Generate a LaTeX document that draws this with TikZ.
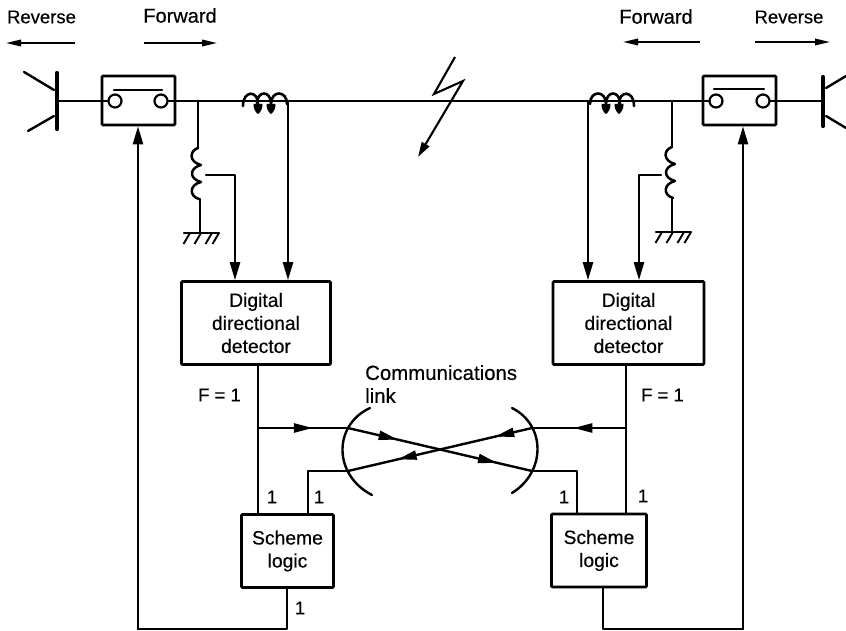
\documentclass[tikz,border=0pt]{standalone}
\usepackage{fontspec}
\setmainfont{Liberation Sans}[FakeBold=0.35]
\usetikzlibrary{arrows.meta,decorations.markings,calc}
\tikzset{
  x=1pt,y=-1pt,
  wire/.style={line width=2.4pt,line cap=round,line join=round},
  bar/.style={line width=4.2pt,line cap=round},
  bigtip/.tip={Triangle[length=18pt,width=10pt]},
  smalltip/.tip={Triangle[length=15pt,width=6.5pt]},
  midtip/.tip={Triangle[length=19pt,width=9pt]},
  feed/.style={wire,-bigtip},
  dirarrow/.style={line width=1.8pt,-smalltip},
  midarrow/.style={postaction={decorate,decoration={markings,mark=at position #1 with {\arrow{midtip}}}}},
  breaker/.style={draw,line width=2.6pt,rounded corners=1pt,minimum width=73pt,minimum height=49pt,inner sep=0pt},
  contact/.style={draw,circle,line width=2.2pt,minimum size=13pt,inner sep=0pt},
  detbox/.style={draw,line width=2.6pt,rounded corners=1pt,minimum width=149pt,minimum height=83pt,inner sep=0pt,align=center,font=\fontsize{19.3}{23}\selectfont},
  logicbox/.style={draw,line width=2.6pt,rounded corners=1pt,minimum height=73pt,inner sep=0pt,align=center,font=\fontsize{19.3}{23}\selectfont},
  lab/.style={inner sep=0pt,font=\fontsize{18.5}{23}\selectfont},
  widelab/.style={inner sep=0pt,font=\fontsize{20}{23}\selectfont},
  ground/.pic={
    \draw[wire] (-16,0) -- (19,0);
    \foreach \h in {-10,1,12,19} \draw[line width=1.9pt] (\h,0) -- ++(-6.5,11);
  },
  ctcoil/.pic={
    \draw[line width=2.6pt,line cap=round] (0,5) .. controls (0,-11) and (15,-11) .. (15,3)
      (14,3) .. controls (14,-11) and (28,-11) .. (28,3)
      (28,3) .. controls (28,-11) and (44,-11) .. (44,3);
    \fill (10.5,3) .. controls (10.5,10) and (14,12) .. (15,13) .. controls (16,12) and (19.5,10) .. (19.5,3) -- cycle;
    \fill (23.5,3) .. controls (23.5,10) and (27,12) .. (28,13) .. controls (29,12) and (32.5,10) .. (32.5,3) -- cycle;
  },
  ptcoil/.pic={
    \draw[line width=2.5pt,line cap=round,line join=round]
      (0,0) .. controls (-9,3) and (-9,14) .. (3,17)
      .. controls (-9,20) and (-9,31) .. (3,34)
      .. controls (-9,37) and (-9,48) .. (1,51);
  }
}
\begin{document}
\begin{tikzpicture}
\useasboundingbox (0,0) rectangle (846,631);

% direction labels
\node[lab] (revL) at (41.5,17) {Reverse};
\node[widelab] (fwdL) at (180,15.5) {Forward};
\node[widelab] (fwdR) at (656,16.5) {Forward};
\node[lab] (revR) at (789,17) {Reverse};
\coordinate (revLa) at (75,43);  \coordinate (revLb) at (6,43);
\coordinate (fwdLa) at (144,43); \coordinate (fwdLb) at (217,43);
\coordinate (fwdRa) at (700,42); \coordinate (fwdRb) at (623,42);
\coordinate (revRa) at (755,42); \coordinate (revRb) at (830,42);
\draw[dirarrow] (revLa) -- (revLb);
\draw[dirarrow] (fwdLa) -- (fwdLb);
\draw[dirarrow] (fwdRa) -- (fwdRb);
\draw[dirarrow] (revRa) -- (revRb);

% breakers
\node[breaker] (brkL) at (138.5,100.5) {};
\node[breaker] (brkR) at (739.5,100.5) {};
\node[contact] (cLa) at (115,101) {};
\node[contact] (cLb) at (161,101) {};
\node[contact] (cRa) at (716,101) {};
\node[contact] (cRb) at (763,101) {};
\coordinate (barLa) at (114,90); \coordinate (barLb) at (162,90);
\coordinate (barRa) at (714,89); \coordinate (barRb) at (764,89);
\draw[wire] (barLa) -- (barLb);
\draw[wire] (barRa) -- (barRb);

% generators
\coordinate (genLt) at (57,73);  \coordinate (genLb) at (57,129);
\coordinate (genRt) at (823,77); \coordinate (genRb) at (823,126);
\coordinate (genLc) at (57,101); \coordinate (genRc) at (823,101);
\draw[bar] (genLt) -- (genLb);
\draw[bar] (genRt) -- (genRb);
\draw[wire] (24,72) -- (54,90);
\draw[wire] (28,131) -- (54,116);
\draw[wire] (846,76) -- (826,88);
\draw[wire] (846,128) -- (826,116);
\draw[wire] (genLc) -- (cLa);
\draw[wire] (cRb) -- (genRc);

% main line and instrument transformers
\draw[wire] (cLb) -- (cRa);
\pic at (243,101) {ctcoil};
\pic[xscale=-1] at (634,101) {ctcoil};

% fault
\coordinate (fa) at (455,57); \coordinate (fb) at (434,94);
\coordinate (fc) at (463,81); \coordinate (fd) at (418,157);
\draw[line width=2.1pt,line join=miter,-{Triangle[length=15pt,width=8.5pt]}] (fa) -- (fb) -- (fc) -- (fd);

% detector boxes
\node[detbox] (ddL) at (256,323) {Digital\\directional\\detector};
\node[detbox,minimum width=151pt] (ddR) at (628.5,323) {Digital\\directional\\detector};

% scheme logic
\node[logicbox,minimum width=92pt] (slL) at (287.5,551) {Scheme\\logic};
\node[logicbox,minimum width=95pt] (slR) at (599,550.5) {Scheme\\logic};

% voltage transformers
\coordinate (tapL) at (198,101); \coordinate (tapR) at (672,101);
\coordinate (ptLt) at (198,148); \coordinate (ptLb) at (200,199); \coordinate (gndL) at (200,233);
\coordinate (ptRt) at (672,147); \coordinate (ptRb) at (672,199); \coordinate (gndR) at (672,232);
\draw[wire] (tapL) -- (ptLt);
\draw[wire] (ptLb) -- (gndL);
\draw[wire] (tapR) -- (ptRt);
\draw[wire] (ptRb) -- (gndR);
\pic at (ptLt) {ptcoil};
\pic at (ptRt) {ptcoil};
\pic at (gndL) {ground};
\pic at (gndR) {ground};

% measurement feeds
\coordinate (ptLo) at (206,175); \coordinate (ptRo) at (661,175);
\coordinate (ctLo) at (288,101); \coordinate (ctRo) at (588,101);
\coordinate (ptLd) at (235,175); \coordinate (ptRd) at (639,175);
\draw[feed] (ptLo) -- (ptLd) -- (ptLd |- ddL.north);
\draw[feed] (ptRo) -- (ptRd) -- (ptRd |- ddR.north);
\draw[feed] (ctLo) -- (ctLo |- ddL.north);
\draw[feed] (ctRo) -- (ctRo |- ddR.north);

% detector to logic
\coordinate (teeL) at (258,428); \coordinate (teeR) at (626,428);
\draw[wire] (teeL |- ddL.south) -- (teeL |- slL.north);
\draw[wire] (teeR |- ddR.south) -- (teeR |- slR.north);

% communications link
\coordinate (xLa) at (348,428); \coordinate (xLb) at (348,471);
\coordinate (xRa) at (532,428); \coordinate (xRb) at (532,471);
\coordinate (inL) at (308,471); \coordinate (inR) at (577,471);
\draw[wire,midarrow=.61] (teeL) -- (xLa);
\draw[wire,midarrow=.27,midarrow=.81] (xLa) -- (xRb);
\draw[wire] (xRb) -- (inR) -- (inR |- slR.north);
\draw[wire,midarrow=.56] (teeR) -- (xRa);
\draw[wire,midarrow=.20,midarrow=.73] (xRa) -- (xLb);
\draw[wire] (xLb) -- (inL) -- (inL |- slL.north);
\draw[wire] (370,408) .. controls (333,425) and (333,475) .. (372,495);
\draw[wire] (512,408) .. controls (546,425) and (546,472) .. (512,493);

% trip lines
\coordinate (tripL) at (287,629); \coordinate (tripR) at (603,629);
\coordinate (upL) at (138,629);   \coordinate (upR) at (743,629);
\draw[wire] (tripL |- slL.south) -- (tripL) -- (upL);
\draw[feed] (upL) -- (upL |- brkL.south);
\draw[wire] (tripR |- slR.south) -- (tripR) -- (upR);
\draw[feed] (upR) -- (upR |- brkR.south);

% labels
\node[inner sep=0pt,font=\fontsize{20.4}{23}\selectfont,anchor=west,align=left] (comm) at (365,384) {Communications\\link};
\node[lab] (fL) at (219.5,395) {F = 1};
\node[lab] (fR) at (662.5,395) {F = 1};
\node[lab] (n1) at (272,497) {1};
\node[lab] (n2) at (319,497) {1};
\node[lab] (n3) at (300,608) {1};
\node[lab] (n4) at (564,497) {1};
\node[lab] (n5) at (643,496) {1};
\end{tikzpicture}
\end{document}
